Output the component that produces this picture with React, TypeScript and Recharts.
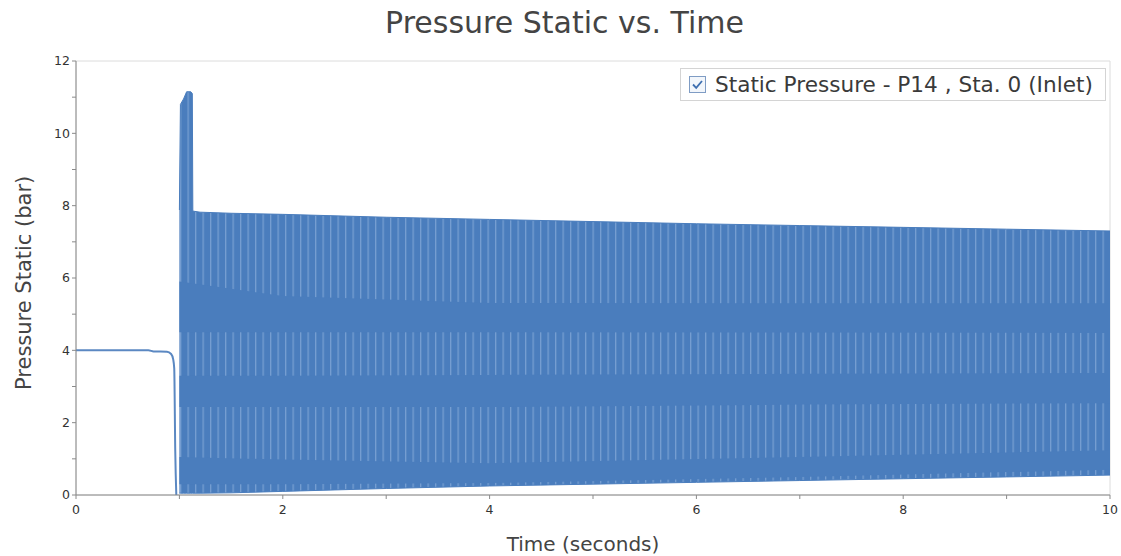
import {
  Area,
  CartesianGrid,
  ComposedChart,
  Legend,
  Line,
  XAxis,
  YAxis,
} from "recharts";

// axes
const timeTicks = [0, 1, 2, 3, 4, 5, 6, 7, 8, 9, 10];
const pressureTicks = [0, 1, 2, 3, 4, 5, 6, 7, 8, 9, 10, 11, 12];
const gridTimes = [2, 4, 6, 8, 10];
const gridPressures = [2, 4, 6, 8, 10, 12];

// inlet pressure before the valve opens (bar)
const inletTime = [0, 0.7, 0.75, 0.88, 0.92, 0.94, 0.95, 0.96, 0.97];
const inletPressure = [4.0, 4.0, 3.97, 3.96, 3.9, 3.75, 3.5, 1.2, 0];

// envelope of the pulsating signal after opening
const pulseTime = [1.0, 1.01, 1.04, 1.07, 1.11, 1.125, 1.13, 1.2, 1.5, 2, 3, 4, 5, 6, 7, 8, 9, 10];
const pulseHigh = [7.88, 10.8, 10.95, 11.15, 11.15, 11.1, 7.85, 7.82, 7.79, 7.76, 7.68, 7.62, 7.56, 7.5, 7.45, 7.4, 7.35, 7.3];
const pulseLow = [0.05, 0.05, 0.05, 0.05, 0.05, 0.05, 0.05, 0.05, 0.06, 0.1, 0.18, 0.25, 0.3, 0.35, 0.4, 0.45, 0.5, 0.55];

// dwell zones inside the pulse where the trace overlaps solidly
const dwellTime = [1.0, 2, 4, 7, 10];
const dwellUpperLow = [4.5, 4.5, 4.5, 4.49, 4.48];
const dwellUpperHigh = [5.9, 5.5, 5.31, 5.3, 5.3];
const dwellMidLow = [2.43, 2.43, 2.43, 2.5, 2.54];
const dwellMidHigh = [3.3, 3.3, 3.32, 3.35, 3.37];
const dwellBottomLow = [0.3, 0.3, 0.33, 0.5, 0.7];
const dwellBottomHigh = [1.05, 0.98, 0.88, 1.05, 1.24];

const inletRows = inletTime.map((t, i) => ({ t, p: inletPressure[i] }));
const pulseRows = pulseTime.map((t, i) => ({ t, range: [pulseLow[i], pulseHigh[i]] }));
const dwellRows = (low: number[], high: number[]) =>
  dwellTime.map((t, i) => ({ t, range: [low[i], high[i]] }));

const BLUE = "#4a7dbd";
const LABEL_FONT = "'DejaVu Sans', Verdana, sans-serif";

function LegendBox() {
  return (
    <div
      style={{
        display: "flex",
        alignItems: "center",
        height: 33,
        border: "1px solid #d4d4d4",
        background: "#fff",
        fontFamily: LABEL_FONT,
        fontSize: 21.6,
        color: "#3a3a3a",
        paddingLeft: 8,
        boxSizing: "border-box",
        whiteSpace: "nowrap",
      }}
    >
      <svg width={17} height={17} style={{ marginRight: 9, flex: "none" }}>
        <rect x={0.5} y={0.5} width={16} height={16} fill="#f2f6fb" stroke="#7f9cc4" />
        <path d="M4 8.5 L7.2 11.8 L13 5" fill="none" stroke="#3e6fb0" strokeWidth={1.8} />
      </svg>
      <span>Static Pressure - P14 , Sta. 0 (Inlet)</span>
    </div>
  );
}

export default function App() {
  return (
    <div style={{ position: "absolute", left: 0, top: 0, width: 1121, height: 556, background: "#fff" }}>
      <div
        style={{
          position: "absolute",
          left: 0,
          top: 5,
          width: 1121,
          textAlign: "center",
          fontFamily: LABEL_FONT,
          fontSize: 30,
          color: "#444",
          paddingLeft: 4,
        }}
      >
        Pressure Static vs. Time
      </div>
      <ComposedChart width={1121} height={556} margin={{ top: 61, right: 11, bottom: 31, left: 16 }}>
        <defs>
          <pattern id="pulseStripes" width={7.5} height={10} patternUnits="userSpaceOnUse">
            <rect width={7.5} height={10} fill={BLUE} />
            <rect x={0} width={1.3} height={10} fill="#9bbae2" opacity={0.55} />
          </pattern>
        </defs>
        {/* hidden axes that only place the even grid lines */}
        <XAxis xAxisId="grid" dataKey="t" type="number" domain={[0, 10]} ticks={gridTimes} hide />
        <YAxis yAxisId="grid" type="number" domain={[0, 12]} ticks={gridPressures} hide />
        <CartesianGrid xAxisId="grid" yAxisId="grid" stroke="#dcdcdc" />
        <XAxis
          dataKey="t"
          type="number"
          domain={[0, 10]}
          ticks={timeTicks}
          allowDataOverflow
          tickFormatter={(v: number) => (v % 2 === 0 ? String(v) : "")}
          stroke="#8a8a8a"
          tick={{ fill: "#333", fontSize: 12.5, fontFamily: LABEL_FONT, dy: 4 }}
          tickSize={4}
          height={30}
          label={{
            value: "Time (seconds)",
            position: "insideBottom",
            offset: -26,
            dx: -10,
            fill: "#444",
            fontSize: 20,
            fontFamily: LABEL_FONT,
          }}
        />
        <YAxis
          type="number"
          domain={[0, 12]}
          ticks={pressureTicks}
          allowDataOverflow
          tickFormatter={(v: number) => (v % 2 === 0 ? String(v) : "")}
          stroke="#8a8a8a"
          tick={{ fill: "#333", fontSize: 12.5, fontFamily: LABEL_FONT }}
          tickSize={4}
          width={60}
          label={{
            value: "Pressure Static (bar)",
            angle: -90,
            position: "insideLeft",
            offset: 8,
            dy: 112,
            fill: "#444",
            fontSize: 21,
            fontFamily: LABEL_FONT,
          }}
        />
        <Legend
          verticalAlign="middle"
          align="center"
          layout="horizontal"
          content={() => <LegendBox />}
          wrapperStyle={{ top: 68, left: 680, width: 426 }}
        />
        <Area
          data={pulseRows}
          dataKey="range"
          type="linear"
          stroke={BLUE}
          strokeWidth={1}
          fill="url(#pulseStripes)"
          fillOpacity={1}
          isAnimationActive={false}
          legendType="none"
        />
        {[
          [dwellUpperLow, dwellUpperHigh],
          [dwellMidLow, dwellMidHigh],
          [dwellBottomLow, dwellBottomHigh],
        ].map(([lo, hi], i) => (
          <Area
            key={`dwell${i}`}
            data={dwellRows(lo, hi)}
            dataKey="range"
            type="linear"
            stroke="none"
            fill={BLUE}
            fillOpacity={1}
            isAnimationActive={false}
            legendType="none"
          />
        ))}
        <Line
          data={inletRows}
          dataKey="p"
          type="monotone"
          stroke="#5b88c2"
          strokeWidth={2}
          dot={false}
          isAnimationActive={false}
          legendType="none"
        />
      </ComposedChart>
    </div>
  );
}
